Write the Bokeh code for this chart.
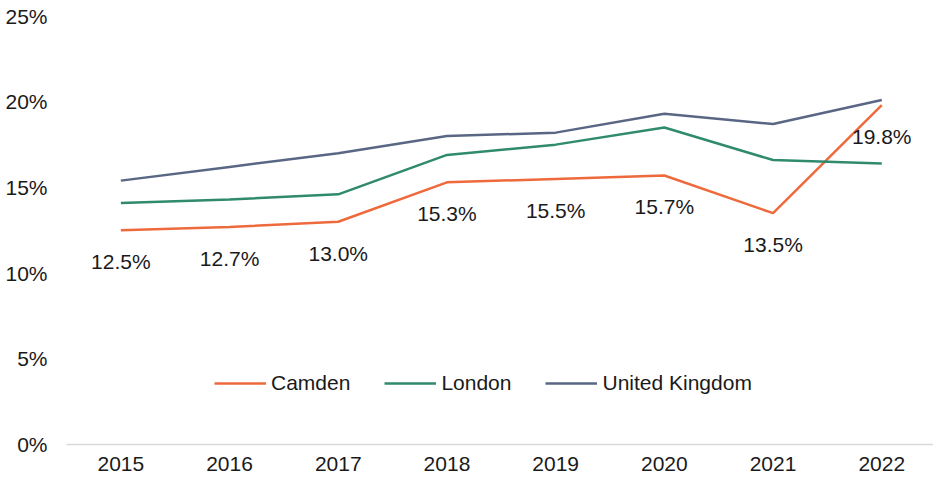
from bokeh.plotting import figure
from bokeh.models import ColumnDataSource, Legend, LegendItem, FixedTicker, Range1d
from bokeh.core.properties import value
from bokeh.embed import file_html
from bokeh.resources import INLINE

years = [2015, 2016, 2017, 2018, 2019, 2020, 2021, 2022]
camden = [12.5, 12.7, 13.0, 15.3, 15.5, 15.7, 13.5, 19.8]
london = [14.1, 14.3, 14.6, 16.9, 17.5, 18.5, 16.6, 16.4]
uk = [15.4, 16.2, 17.0, 18.0, 18.2, 19.3, 18.7, 20.1]
camden_labels = ["12.5%", "12.7%", "13.0%", "15.3%", "15.5%", "15.7%", "13.5%", "19.8%"]
y_ticks = [0, 5, 10, 15, 20, 25]

FONT = "Liberation Sans"
TXT = "#1a1a1a"
C_CAMDEN = "#EE6A3C"
C_LONDON = "#2F8A6E"
C_UK = "#596785"

p = figure(width=933, height=473, output_backend="svg", toolbar_location=None,
           x_range=Range1d(2014.5, 2022.476), y_range=Range1d(0, 25.62),
           min_border_left=66, min_border_right=0, min_border_top=5, min_border_bottom=0)
p.outline_line_color = None
p.xgrid.grid_line_color = None
p.ygrid.grid_line_color = None
p.background_fill_color = "white"
p.border_fill_color = "white"

r_c = p.line(years, camden, line_color=C_CAMDEN, line_width=2.5)
r_l = p.line(years, london, line_color=C_LONDON, line_width=2.5)
r_u = p.line(years, uk, line_color=C_UK, line_width=2.5)

src = ColumnDataSource(dict(x=years, y=camden, t=camden_labels))
p.text(x="x", y="y", text="t", source=src, text_font=value(FONT), text_font_size="21px",
       text_color=TXT, text_align="center", text_baseline="middle", y_offset=31.5)

p.xaxis.ticker = FixedTicker(ticks=years)
p.xaxis.major_label_overrides = {y: str(y) for y in years}
p.xaxis.axis_line_color = "#D9D9D9"
p.xaxis.axis_line_width = 1.5
p.xaxis.major_tick_line_color = None
p.xaxis.minor_tick_line_color = None
p.xaxis.major_tick_out = 0
p.xaxis.major_tick_in = 0
p.xaxis.major_label_standoff = 12
p.xaxis.major_label_text_font = FONT
p.xaxis.major_label_text_font_size = "21px"
p.xaxis.major_label_text_color = TXT

p.yaxis.ticker = FixedTicker(ticks=y_ticks)
p.yaxis.major_label_overrides = {t: f"{t}%" for t in y_ticks}
p.yaxis.axis_line_color = None
p.yaxis.major_tick_line_color = None
p.yaxis.minor_tick_line_color = None
p.yaxis.major_tick_out = 0
p.yaxis.major_tick_in = 0
p.yaxis.major_label_standoff = 19
p.yaxis.major_label_text_font = FONT
p.yaxis.major_label_text_font_size = "21px"
p.yaxis.major_label_text_color = TXT

legend = Legend(items=[LegendItem(label="Camden", renderers=[r_c]),
                       LegendItem(label="London", renderers=[r_l]),
                       LegendItem(label="United Kingdom", renderers=[r_u])],
                orientation="horizontal", location=(148, 49),
                glyph_width=52, glyph_height=20, label_height=20, label_standoff=5,
                spacing=34, padding=0, margin=0,
                border_line_color=None, background_fill_alpha=0,
                label_text_font=FONT, label_text_font_size="21px", label_text_color=TXT)
p.add_layout(legend, "center")

open("out.html", "w").write(file_html(p, INLINE))
